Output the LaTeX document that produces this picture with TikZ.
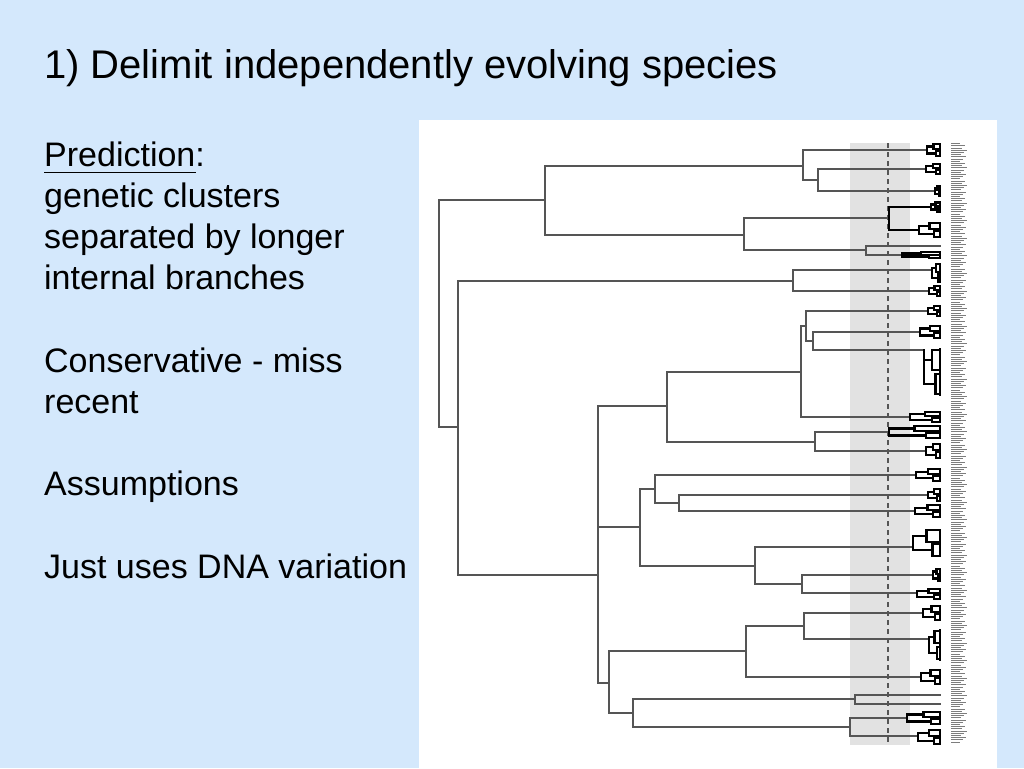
\documentclass[tikz,border=0pt]{standalone}
\usepackage{fontspec}
\setmainfont{Liberation Sans}
\definecolor{bgblue}{RGB}{212,232,252}
\definecolor{treeg}{RGB}{85,85,85}
\definecolor{bandg}{RGB}{226,226,226}
\definecolor{labg}{RGB}{125,125,125}
\tikzset{
  br/.style={draw=treeg, line width=1.1pt, line cap=rect},
  bold/.style={draw=black, line width=2.1pt, line cap=rect, line join=miter},
  comb/.style={draw=black, line width=1.6pt},
  labline/.style={draw=labg, line width=0.7pt},
  titletxt/.style={inner sep=0pt, anchor=base west, font=\fontsize{40}{48}\selectfont},
  bodytxt/.style={inner sep=0pt, anchor=base west, font=\fontsize{34}{41}\selectfont},
}
\newcommand\clus[3]{%
  \pgfmathsetmacro\cya{#2-#3/4}%
  \pgfmathsetmacro\cyb{#2+#3/4}%
  \pgfmathsetmacro\cxa{#1+0.5*(940-#1)}%
  \pgfmathsetmacro\cxb{#1+0.72*(940-#1)}%
  \pgfmathsetmacro\cd{#3/5}%
  \draw[bold] (\cxa,\cya) -- (#1,\cya) -- (#1,\cyb) -- (\cxb,\cyb);
  \draw[bold] (940,\cya-\cd) -- (\cxa,\cya-\cd) -- (\cxa,\cya+\cd) -- (940,\cya+\cd);
  \draw[bold] (940,\cyb-\cd) -- (\cxb,\cyb-\cd) -- (\cxb,\cyb+\cd) -- (940,\cyb+\cd);
  \draw[comb] (940,#2-#3/2) -- (940,#2+#3/2);
}
\begin{document}
\begin{tikzpicture}[x=1pt,y=-1pt]
\useasboundingbox (0,0) rectangle (1024,768);
\fill[bgblue] (0,0) rectangle (1024,768);
% white panel
\fill[white] (419,120) rectangle (997,768);
% grey band and threshold
\fill[bandg] (850,143) rectangle (910,745);
\draw[treeg, line width=1.2pt, dash pattern=on 5pt off 4pt] (888,143) -- (888,745);

% ---- tree (thin branches)
\draw[br] (439,200) -- (439,427);
\draw[br] (439,200) -- (545,200);
\draw[br] (439,427) -- (458,427);
% clade A
\draw[br] (545,166) -- (545,235);
\draw[br] (545,166) -- (803,166);
\draw[br] (545,235) -- (744,235);
\draw[br] (803,150) -- (803,180);
\draw[br] (803,150) -- (927,150);
\draw[br] (803,180) -- (818,180);
\draw[br] (818,169) -- (818,191);
\draw[br] (818,169) -- (926,169);
\draw[br] (818,191) -- (935,191);
\draw[br] (744,218) -- (744,250);
\draw[br] (744,218) -- (889,218);
\draw[br] (744,250) -- (866,250);
\draw[br] (866,246) -- (866,255);
\draw[br] (866,246) -- (940,246);
\draw[br] (866,255) -- (902,255);
% clade B
\draw[br] (458,281) -- (458,575);
\draw[br] (458,281) -- (793,281);
\draw[br] (458,575) -- (598,575);
\draw[br] (793,270) -- (793,291);
\draw[br] (793,270) -- (932,270);
\draw[br] (793,291) -- (929,291);
% clade C
\draw[br] (598,406) -- (598,683);
\draw[br] (598,406) -- (667,406);
\draw[br] (598,527) -- (640,527);
\draw[br] (598,683) -- (609,683);
\draw[br] (667,372) -- (667,442);
\draw[br] (667,372) -- (801,372);
\draw[br] (667,442) -- (815,442);
\draw[br] (801,326) -- (801,417);
\draw[br] (801,326) -- (806,326);
\draw[br] (801,417) -- (910,417);
\draw[br] (806,311) -- (806,341);
\draw[br] (806,311) -- (928,311);
\draw[br] (806,341) -- (813,341);
\draw[br] (813,332) -- (813,350);
\draw[br] (813,332) -- (920,332);
\draw[br] (813,350) -- (924,350);
\draw[br] (815,432) -- (815,451);
\draw[br] (815,432) -- (889,432);
\draw[br] (815,451) -- (926,451);
\draw[br] (640,489) -- (640,566);
\draw[br] (640,489) -- (655,489);
\draw[br] (640,566) -- (755,566);
\draw[br] (655,475) -- (655,503);
\draw[br] (655,475) -- (916,475);
\draw[br] (655,503) -- (679,503);
\draw[br] (679,495) -- (679,511);
\draw[br] (679,495) -- (928,495);
\draw[br] (679,511) -- (915,511);
\draw[br] (755,547) -- (755,584);
\draw[br] (755,547) -- (913,547);
\draw[br] (755,584) -- (802,584);
\draw[br] (802,575) -- (802,593);
\draw[br] (802,575) -- (933,575);
\draw[br] (802,593) -- (917,593);
\draw[br] (609,651) -- (609,713);
\draw[br] (609,651) -- (746,651);
\draw[br] (609,713) -- (633,713);
\draw[br] (746,626) -- (746,677);
\draw[br] (746,626) -- (804,626);
\draw[br] (746,677) -- (921,677);
\draw[br] (804,613) -- (804,639);
\draw[br] (804,613) -- (923,613);
\draw[br] (804,639) -- (929,639);
\draw[br] (633,699) -- (633,727);
\draw[br] (633,699) -- (855,699);
\draw[br] (633,727) -- (850,727);
\draw[br] (855,695) -- (855,704);
\draw[br] (855,695) -- (940,695);
\draw[br] (855,704) -- (940,704);
\draw[br] (850,718) -- (850,736);
\draw[br] (850,718) -- (907,718);
\draw[br] (850,736) -- (918,736);

% ---- bold clusters
\draw[bold] (931,207) -- (889,207) -- (889,230) -- (919,230);
\clus{927}{150}{14}
\clus{926}{169}{12}
\clus{935}{191}{12}
\clus{931}{207}{10}
\clus{919}{230}{16}
\clus{902}{255}{6}
\clus{932}{273}{20}
\clus{929}{291}{12}
\clus{928}{311}{12}
\clus{920}{332}{14}
\draw[bold] (924,350) -- (924,372);
\clus{924}{372}{48}
\clus{910}{417}{12}
\clus{889}{432}{14}
\clus{926}{451}{16}
\clus{916}{475}{13}
\clus{928}{495}{13}
\clus{915}{511}{13}
\clus{913}{543}{28}
\clus{933}{575}{14}
\clus{917}{594}{12}
\clus{923}{613}{16}
\clus{929}{645}{32}
\clus{921}{677}{16}
\clus{907}{718}{14}
\clus{918}{737}{16}

% ---- tip labels (illegible, drawn as texture)
\foreach \i in {0,...,272} {
  \pgfmathsetmacro\ly{143.5+\i*2.2}
  \pgfmathsetmacro\ll{9+mod(\i*37,8)}
  \draw[labline] (951,\ly) -- ++(\ll,0);
}

% ---- text
\node[titletxt] (title) at (44,78) {1) Delimit independently evolving species};
\node[bodytxt] (pred) at (44,166) {Prediction:};
\draw[line width=1.7pt] ([yshift=-6.5pt]pred.base west) -- ++(152,0);
\node[bodytxt] (l2) at (44,207.2) {genetic clusters};
\node[bodytxt] (l3) at (44,248.4) {separated by longer};
\node[bodytxt] (l4) at (44,289.6) {internal branches};
\node[bodytxt] (l5) at (44,372) {Conservative - miss};
\node[bodytxt] (l6) at (44,413.2) {recent};
\node[bodytxt] (l7) at (44,495.6) {Assumptions};
\node[bodytxt] (l8) at (44,578) {Just uses DNA variation};
\end{tikzpicture}
\end{document}
